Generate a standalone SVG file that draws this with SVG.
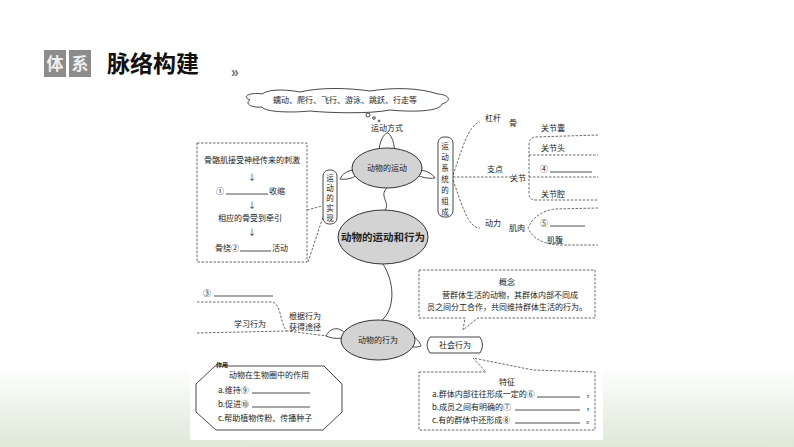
<svg xmlns="http://www.w3.org/2000/svg" width="794" height="447" viewBox="0 0 794 447">
<defs>
<linearGradient id="bg" x1="0" y1="0" x2="0" y2="1"><stop offset="0.82" stop-color="#ffffff"/><stop offset="1" stop-color="#dde8d6"/></linearGradient>
<style>
text{font-family:"Noto Sans CJK SC","Liberation Serif",serif;fill:#222;font-size:8px}
.c{text-anchor:middle}
.v{font-size:7.5px}
.d{fill:none;stroke:#444;stroke-width:0.8;stroke-dasharray:2.5,1.5}
.s{fill:none;stroke:#333;stroke-width:0.9}
.u{stroke:#222;stroke-width:0.8}
.e{fill:#d3d3d3;stroke:#333;stroke-width:1}
.p{fill:#fff;stroke:#333;stroke-width:0.9}
</style>
</defs>
<rect width="794" height="447" fill="url(#bg)"/>
<rect x="190" y="80" width="413" height="360" fill="#fff"/>
<g id="header">
<rect x="44" y="50" width="22" height="27" fill="#8c8c8c"/><rect x="69" y="50" width="22" height="27" fill="#8c8c8c"/>
<text x="55" y="70" class="c" style="font-size:17px;fill:#eee;font-weight:bold">体</text>
<text x="80" y="70" class="c" style="font-size:17px;fill:#eee;font-weight:bold">系</text>
<text x="107" y="72" style="font-size:23px;font-weight:bold;fill:#111;font-family:'Noto Sans CJK SC',sans-serif">脉络构建</text>
<text x="231" y="77" style="font-size:14px;fill:#777;font-weight:bold;font-family:'Liberation Sans',sans-serif">»</text>
</g>
<g id="connectors">
<path class="s" d="M387,188 C378,196 392,204 384,211"/>
<path class="s" d="M383,264 C396,285 394,310 382,320"/>
<path class="d" d="M307,210 L322,206 M324,214 L308,262"/>
<path class="d" d="M453,175 C462,150 468,125 480,122"/>
<path class="d" d="M453,177 L512,177"/>
<path class="d" d="M453,180 C462,205 468,228 480,228"/>
<path class="d" d="M598,135 L535,137 Q529,138 529,144 L529,194 Q529,200 536,200 L598,200 M529,155 L598,155 M529,177 L598,177"/>
<path class="d" d="M598,208 L555,209 Q535,212 528,228 Q535,244 560,245 L598,245"/>
<path class="d" d="M197,302 L273,302 C282,306 280,325 287,331 L327,336 M197,333 L287,331"/>
</g>
<g id="cloud">
<path class="p" d="M250,100 C240,96 252,92 262,94 C270,88 290,90 300,92 C320,87 350,88 370,91 C395,87 420,88 438,94 C450,95 452,101 442,104 C440,112 410,112 390,110 C370,114 330,113 310,111 C290,113 265,112 262,107 C252,108 244,104 250,100 Z"/>
<text x="345" y="103" class="c">蠕动、爬行、飞行、游泳、跳跃、行走等</text>
<circle class="p" cx="368" cy="115" r="2"/><circle class="p" cx="374" cy="118" r="1.3"/><circle class="p" cx="379" cy="121" r="0.9"/>
</g>
<g id="n-motion">
<text x="387" y="131" class="c">运动方式</text>
<path class="p" d="M379,150 C380,138 386,132 388,133 C392,136 395,145 394,150 Z"/>
<path class="p" d="M355,170 C348,170 342,174 340,179 C347,180 354,178 358,174 Z"/>
<path class="p" d="M418,170 C425,170 432,173 435,178 C428,179 421,177 417,175 Z"/>
<ellipse class="e" cx="387" cy="168" rx="35" ry="20"/>
<text x="387" y="171" class="c">动物的运动</text>
</g>
<g id="n-main">
<ellipse class="e" cx="383" cy="237" rx="45" ry="27"/>
<text x="383" y="241" class="c" style="font-size:10.5px;font-weight:bold">动物的运动和行为</text>
</g>
<g id="n-impl">
<rect class="p" x="323" y="170" width="14" height="54" rx="6"/>
<text class="c v" x="330" y="181">运</text><text class="c v" x="330" y="191">动</text><text class="c v" x="330" y="201">的</text><text class="c v" x="330" y="211">实</text><text class="c v" x="330" y="221">现</text>
</g>
<g id="n-implbox">
<rect class="d" x="197" y="143" width="110" height="119"/>
<text x="252" y="163" class="c">骨骼肌接受神经传来的刺激</text>
<text x="252" y="180" class="c">↓</text>
<text x="216" y="194">①</text><line class="u" x1="226" y1="194" x2="268" y2="194"/><text x="269" y="194">收缩</text>
<text x="252" y="208" class="c">↓</text>
<text x="250" y="221" class="c">相应的骨受到牵引</text>
<text x="252" y="235" class="c">↓</text>
<text x="215" y="251">骨绕②</text><line class="u" x1="240" y1="251" x2="271" y2="251"/><text x="272" y="251">活动</text>
</g>
<g id="n-system">
<rect class="p" x="438" y="137" width="15" height="80" rx="6"/>
<text class="c v" x="445" y="149">运</text><text class="c v" x="445" y="160">动</text><text class="c v" x="445" y="171">系</text><text class="c v" x="445" y="182">统</text><text class="c v" x="445" y="193">的</text><text class="c v" x="445" y="204">组</text><text class="c v" x="445" y="215">成</text>
<text x="493" y="121" class="c">杠杆</text><text x="513" y="126" class="c">骨</text>
<text x="495" y="172" class="c">支点</text><text x="518" y="181" class="c">关节</text>
<text x="493" y="226" class="c">动力</text><text x="517" y="231" class="c">肌肉</text>
<text x="541" y="131">关节囊</text><text x="541" y="151">关节头</text>
<text x="540" y="172">④</text><line class="u" x1="550" y1="172" x2="592" y2="172"/>
<text x="541" y="197">关节腔</text>
<text x="540" y="226">⑤</text><line class="u" x1="550" y1="226" x2="585" y2="226"/>
<text x="555" y="243" class="c">肌腹</text>
</g>
<g id="n-concept">
<path class="d" d="M419,270 L595,270 L595,318 L478,318 L463,330 L465,318 L419,318 Z"/>
<text x="507" y="285" class="c">概念</text>
<text x="510" y="298" class="c">营群体生活的动物，其群体内部不同成</text>
<text x="507" y="310" class="c">员之间分工合作，共同维持群体生活的行为。</text>
</g>
<g id="n-behavior">
<path class="p" d="M345,333 C338,326 330,328 326,336 C333,339 340,339 345,337 Z"/>
<path class="p" d="M410,335 C416,337 420,342 421,346 C416,348 411,347 409,345 Z"/>
<ellipse class="e" cx="378" cy="340" rx="37" ry="20"/>
<text x="378" y="343" class="c">动物的行为</text>
</g>
<g id="n-social">
<path class="p" d="M430,337 L480,337 Q485,345 480,353 L430,353 Q424,345 430,337 Z"/>
<text x="455" y="348" class="c">社会行为</text>
</g>
<g id="n-learn">
<text x="203" y="296">③</text><line class="u" x1="214" y1="296" x2="273" y2="296"/>
<text x="250" y="327" class="c">学习行为</text>
<text x="305" y="319" class="c">根据行为</text>
<text x="305" y="330" class="c">获得途径</text>
</g>
<g id="n-role">
<path class="p" d="M215,366 L324,366 L342,384 L342,412 L323,430 L216,430 L196,412 L196,384 Z"/>
<text x="222" y="367" class="c" style="font-size:6px;font-weight:bold">作用</text>
<text x="269" y="378" class="c">动物在生物圈中的作用</text>
<text x="218" y="393">a.维持⑨</text><line class="u" x1="252" y1="393" x2="310" y2="393"/>
<text x="218" y="407">b.促进⑩</text><line class="u" x1="252" y1="407" x2="310" y2="407"/>
<text x="218" y="421">c.帮助植物传粉、传播种子</text>
</g>
<g id="n-feature">
<path class="d" d="M419,372 L486,372 L473,358 L533,370 L595,372 L595,430 L419,430 Z"/>
<text x="507" y="385" class="c">特征</text>
<text x="432" y="397">a.群体内部往往形成一定的⑥</text><line class="u" x1="537" y1="397" x2="580" y2="397"/><text x="586" y="397">，</text>
<text x="432" y="410">b.成员之间有明确的⑦</text><line class="u" x1="515" y1="410" x2="580" y2="410"/><text x="586" y="410">，</text>
<text x="432" y="423">c.有的群体中还形成⑧</text><line class="u" x1="515" y1="423" x2="580" y2="423"/><text x="586" y="423">。</text>
</g>
</svg>
